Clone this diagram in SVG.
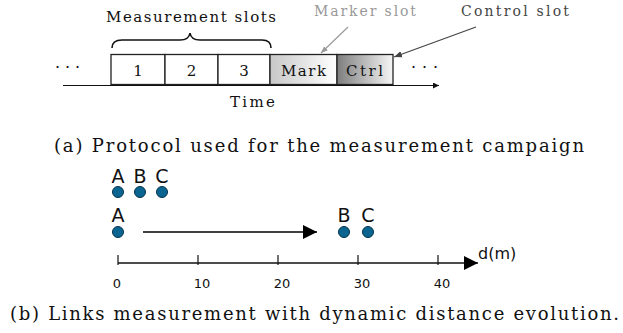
<svg xmlns="http://www.w3.org/2000/svg" width="623" height="333" viewBox="0 0 623 333">
<style>
.serif{font-family:"DejaVu Serif","Liberation Serif",serif;fill:#111}
.sans{font-family:"DejaVu Sans","Liberation Sans",sans-serif;fill:#111}
.slot{stroke:#222;stroke-width:1.3}
.dot{fill:#0b6591;stroke:#06324a;stroke-width:1}
</style>
<defs>
<linearGradient id="gMark" x1="0" y1="0" x2="1" y2="0"><stop offset="0" stop-color="#c8c8c8"/><stop offset="1" stop-color="#ffffff"/></linearGradient>
<linearGradient id="gCtrl" x1="0" y1="0" x2="1" y2="0"><stop offset="0" stop-color="#7e7e7e"/><stop offset="1" stop-color="#f6f6f6"/></linearGradient>
<marker id="ahB" viewBox="0 0 10 10" refX="10" refY="5" markerWidth="8" markerHeight="6" markerUnits="userSpaceOnUse" orient="auto"><path d="M0,0L10,5L0,10z" fill="#111"/></marker>
<marker id="ahG" viewBox="0 0 10 10" refX="10" refY="5" markerWidth="7" markerHeight="7" markerUnits="userSpaceOnUse" orient="auto"><path d="M0,1L10,5L0,9z" fill="#999"/></marker>
<marker id="ahD" viewBox="0 0 10 10" refX="10" refY="5" markerWidth="8" markerHeight="8" markerUnits="userSpaceOnUse" orient="auto"><path d="M0,1L10,5L0,9z" fill="#444"/></marker>
<marker id="ahBig" viewBox="0 0 10 10" refX="10" refY="5" markerWidth="14" markerHeight="14" markerUnits="userSpaceOnUse" orient="auto"><path d="M0,0L10,5L0,10z" fill="#000"/></marker>
</defs>

<!-- (a) protocol -->
<g id="protocol">
<text class="serif" x="106" y="22" font-size="15" textLength="170" lengthAdjust="spacing">Measurement slots</text>
<path d="M112,48 Q112,40 122,40 L180,40 Q189,40 190,33 Q191,40 200,40 L262,40 Q271,40 271,48" fill="none" stroke="#111" stroke-width="1.6"/>
<text class="serif" x="314" y="16" font-size="14" style="fill:#999" textLength="102" lengthAdjust="spacing">Marker slot</text>
<text class="serif" x="461" y="16" font-size="14" style="fill:#444" textLength="108" lengthAdjust="spacing">Control slot</text>
<text class="serif" x="55" y="73" font-size="16" textLength="25" lengthAdjust="spacing">· · ·</text>
<text class="serif" x="411" y="73" font-size="16" textLength="27" lengthAdjust="spacing">· · ·</text>
</g>
<g id="slot1"><rect class="slot" x="111" y="54.5" width="54" height="30" fill="#fff"/><text class="serif" x="138" y="76" font-size="15" text-anchor="middle">1</text></g>
<g id="slot2"><rect class="slot" x="165" y="54.5" width="53" height="30" fill="#fff"/><text class="serif" x="191.5" y="76" font-size="15" text-anchor="middle">2</text></g>
<g id="slot3"><rect class="slot" x="218" y="54.5" width="52" height="30" fill="#fff"/><text class="serif" x="244" y="76" font-size="15" text-anchor="middle">3</text></g>
<g id="mark"><rect class="slot" x="270" y="54.5" width="67" height="30" fill="url(#gMark)"/><text class="serif" x="281" y="76" font-size="15" textLength="45" lengthAdjust="spacing">Mark</text></g>
<g id="ctrl"><rect class="slot" x="337" y="54.5" width="56" height="30" fill="url(#gCtrl)"/><text class="serif" x="346" y="76" font-size="15" textLength="37" lengthAdjust="spacing">Ctrl</text></g>
<g id="connectors-a">
<line x1="63" y1="85.5" x2="439" y2="85.5" stroke="#111" stroke-width="1.2" marker-end="url(#ahB)"/>
<line x1="348" y1="27" x2="321" y2="53" stroke="#999" stroke-width="1.2" marker-end="url(#ahG)"/>
<line x1="476" y1="27" x2="394" y2="57" stroke="#444" stroke-width="1.2" marker-end="url(#ahD)"/>
</g>
<text class="serif" x="230" y="107" font-size="15" textLength="45" lengthAdjust="spacing">Time</text>
<text class="serif" x="54" y="152" font-size="18" textLength="530" lengthAdjust="spacing">(a) Protocol used for the measurement campaign</text>

<!-- (b) distance evolution -->
<g id="nodeA1"><circle class="dot" cx="118" cy="192" r="5.5"/><text class="sans" x="118" y="183" font-size="19" text-anchor="middle">A</text></g>
<g id="nodeB1"><circle class="dot" cx="140" cy="192" r="5.5"/><text class="sans" x="140" y="183" font-size="19" text-anchor="middle">B</text></g>
<g id="nodeC1"><circle class="dot" cx="162" cy="192" r="5.5"/><text class="sans" x="162" y="183" font-size="19" text-anchor="middle">C</text></g>
<g id="nodeA2"><circle class="dot" cx="118" cy="232" r="5.5"/><text class="sans" x="118" y="222" font-size="19" text-anchor="middle">A</text></g>
<g id="nodeB2"><circle class="dot" cx="344" cy="232" r="5.5"/><text class="sans" x="344" y="222" font-size="19" text-anchor="middle">B</text></g>
<g id="nodeC2"><circle class="dot" cx="368" cy="232" r="5.5"/><text class="sans" x="368" y="222" font-size="19" text-anchor="middle">C</text></g>
<g id="connectors-b">
<line x1="143" y1="232" x2="317" y2="232" stroke="#000" stroke-width="1.4" marker-end="url(#ahBig)"/>
</g>
<g id="axis">
<line x1="118" y1="263" x2="478" y2="263" stroke="#111" stroke-width="1.4" marker-end="url(#ahBig)"/>
<g stroke="#111" stroke-width="1.2">
<line x1="118" y1="255" x2="118" y2="265"/><line x1="198" y1="255" x2="198" y2="265"/><line x1="278" y1="255" x2="278" y2="265"/><line x1="358" y1="255" x2="358" y2="265"/><line x1="438" y1="255" x2="438" y2="265"/>
</g>
<g class="sans" font-size="13" text-anchor="middle">
<text x="117" y="288">0</text><text x="202" y="288">10</text><text x="282" y="288">20</text><text x="362" y="288">30</text><text x="442" y="288">40</text>
</g>
<text class="sans" x="478" y="259" font-size="16">d(m)</text>
</g>
<text class="serif" x="10" y="320" font-size="18" textLength="609" lengthAdjust="spacing">(b) Links measurement with dynamic distance evolution.</text>
</svg>
